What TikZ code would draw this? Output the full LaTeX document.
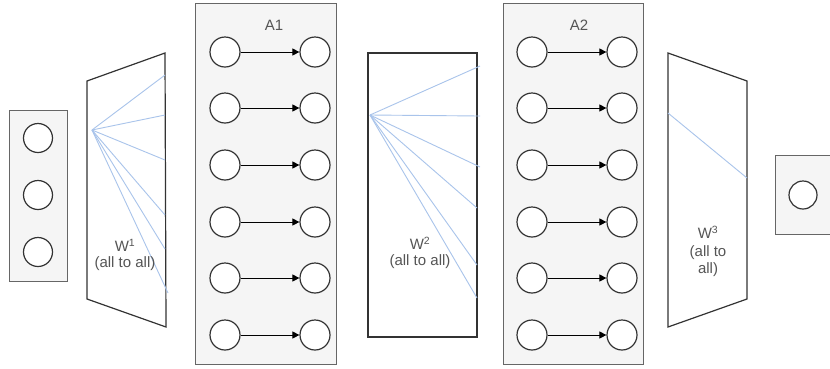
\documentclass[tikz,border=0pt]{standalone}
\usepackage{fontspec}
\setmainfont{Liberation Sans}
\usetikzlibrary{arrows.meta}
\definecolor{boxfill}{HTML}{F5F5F5}
\definecolor{boxline}{HTML}{666666}
\definecolor{darkline}{HTML}{333333}
\definecolor{fanblue}{HTML}{A9C4EB}
\definecolor{txt}{HTML}{555555}
\tikzset{
  layerbox/.style={draw=boxline, fill=boxfill, line width=0.9pt, inner sep=0pt},
  neuron/.style={circle, draw=darkline, fill=white, line width=1.2pt, minimum size=30pt, inner sep=0pt},
  smallneuron/.style={neuron, minimum size=29pt},
  wshape/.style={draw=darkline, fill=white, line width=1.2pt, line join=miter},
  fan/.style={draw=fanblue, line width=0.9pt},
  link/.style={draw=black, line width=0.9pt, -{Triangle[length=7pt,width=7pt]}},
  lbl/.style={text=txt, font=\fontsize{15}{18}\selectfont, align=center, inner sep=0pt}
}
\begin{document}
\begin{tikzpicture}[x=1pt,y=-1pt]
\useasboundingbox (0,0) rectangle (830,368);
\clip (0,0) rectangle (830,368);
% input layer
\node[layerbox, minimum width=58pt, minimum height=171pt] (inbox) at (38,195.5) {};
\node[smallneuron] (i1) at (38,138) {};
\node[smallneuron] (i2) at (38,195) {};
\node[smallneuron] (i3) at (38,252) {};
% W1 trapezoid
\coordinate (w1a) at (87,81);
\coordinate (w1b) at (165,53);
\coordinate (w1c) at (166,327);
\coordinate (w1d) at (87,299);
\draw[wshape] (w1a) -- (w1b) -- (w1c) -- (w1d) -- cycle;
\coordinate (f1o) at (92,130);
\coordinate (f1e1) at (165,75);
\coordinate (f1e2) at (165,115);
\coordinate (f1e3) at (165,160);
\coordinate (f1e4) at (165,215);
\coordinate (f1e5) at (165,249);
\coordinate (f1e6) at (168,293);
\foreach \k in {1,...,6} \draw[fan] (f1o) -- (f1e\k);
\node[lbl] (w1t) at (125,245) {W\textsuperscript{1}};
\node[lbl] (w1t2) at (125,264) {(all to all)};
% A1
\node[layerbox, minimum width=141pt, minimum height=361pt] (a1box) at (265.5,183.5) {};
\node[lbl] (a1lab) at (274,25) {A1};
\foreach \r/\y in {1/52,2/108,3/165,4/222,5/278,6/335}{
  \node[neuron] (a1l\r) at (225,\y) {};
  \node[neuron] (a1r\r) at (315,\y) {};
  \draw[link] (a1l\r) -- (a1r\r);
}
% W2 rectangle
\node[wshape, minimum width=109pt, minimum height=284pt, inner sep=0pt] (w2box) at (422.5,195) {};
\coordinate (f2o) at (370,115);
\coordinate (f2e1) at (480,66);
\coordinate (f2e2) at (480,116);
\coordinate (f2e3) at (480,167);
\coordinate (f2e4) at (477,208);
\coordinate (f2e5) at (477,265);
\coordinate (f2e6) at (477,298);
\foreach \k in {1,...,6} \draw[fan] (f2o) -- (f2e\k);
\node[lbl] (w2t) at (420,243) {W\textsuperscript{2}};
\node[lbl] (w2t2) at (420,262) {(all to all)};
% A2
\node[layerbox, minimum width=140pt, minimum height=361pt] (a2box) at (573,183.5) {};
\node[lbl] (a2lab) at (579,25) {A2};
\foreach \r/\y in {1/52,2/108,3/165,4/222,5/278,6/335}{
  \node[neuron] (a2l\r) at (532,\y) {};
  \node[neuron] (a2r\r) at (622,\y) {};
  \draw[link] (a2l\r) -- (a2r\r);
}
% W3 trapezoid
\coordinate (w3a) at (668,53);
\coordinate (w3b) at (747,81);
\coordinate (w3c) at (747,299);
\coordinate (w3d) at (668,327);
\draw[wshape] (w3a) -- (w3b) -- (w3c) -- (w3d) -- cycle;
\coordinate (f3o) at (668,113);
\coordinate (f3e) at (747,178);
\draw[fan] (f3o) -- (f3e);
\node[lbl] (w3t) at (708,232) {W\textsuperscript{3}};
\node[lbl] (w3t2) at (708,253) {(all to};
\node[lbl] (w3t3) at (708,270) {all)};
% output
\node[layerbox, minimum width=65pt, minimum height=79pt] (outbox) at (807.5,194.5) {};
\node[neuron, minimum size=28pt] (o1) at (803,195) {};
\end{tikzpicture}
\end{document}
